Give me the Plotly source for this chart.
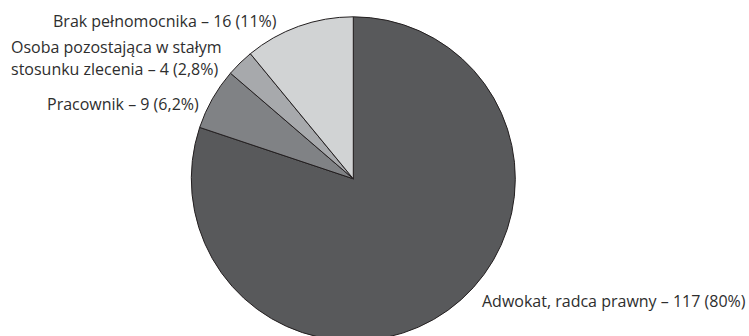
import plotly.graph_objects as go

# Representation in proceedings: counts per category
categories = [
    "Adwokat, radca prawny",
    "Pracownik",
    "Osoba pozostająca w stałym|stosunku zlecenia",
    "Brak pełnomocnika",
]
counts = [117, 9, 4, 16]
percent_labels = ["80%", "6,2%", "2,8%", "11%"]
slice_colors = ["#58595b", "#808285", "#a7a9ac", "#d1d3d4"]

# Canvas and pie geometry (pixels)
W, H = 749, 341
CX, CY, R = 353.3, 178.8, 162.0

# Label anchors in pixels: (x, y of first line centre, xanchor)
label_pos = [
    (479.5, 300.5, "left"),
    (201.0, 104.0, "right"),
    (9.0, 46.5, "left"),
    (279.0, 21.5, "right"),
]
LINE_H = 22.5
FONT = dict(family="Open Sans", size=16, color="#2e2e2e")

fig = go.Figure(
    go.Pie(
        labels=[c.replace("|", " ") for c in categories],
        values=counts,
        sort=False,
        direction="clockwise",
        rotation=0,
        marker=dict(colors=slice_colors, line=dict(color="#231f20", width=1)),
        textinfo="none",
        hoverinfo="label+value",
        showlegend=False,
        domain=dict(
            x=[(CX - R) / W, (CX + R) / W],
            y=[(H - (CY + R)) / H, (H - (CY - R)) / H],
        ),
    )
)

annotations = []
for cat, n, pct, (x, y, anchor) in zip(categories, counts, percent_labels, label_pos):
    lines = cat.split("|")
    lines[-1] = f"{lines[-1]} – {n} ({pct})"
    for i, line in enumerate(lines):
        annotations.append(
            dict(
                text=line,
                x=x / W,
                y=1 - (y + i * LINE_H) / H,
                xref="paper",
                yref="paper",
                xanchor=anchor,
                yanchor="middle",
                showarrow=False,
                font=FONT,
            )
        )

fig.update_layout(
    width=W,
    height=H,
    margin=dict(l=0, r=0, t=0, b=0),
    paper_bgcolor="white",
    plot_bgcolor="white",
    annotations=annotations,
)

fig.write_html(
    "out.html",
    post_script="document.documentElement.style.overflow='hidden';"
    "document.body.style.margin='0';document.body.style.overflow='hidden';",
)
